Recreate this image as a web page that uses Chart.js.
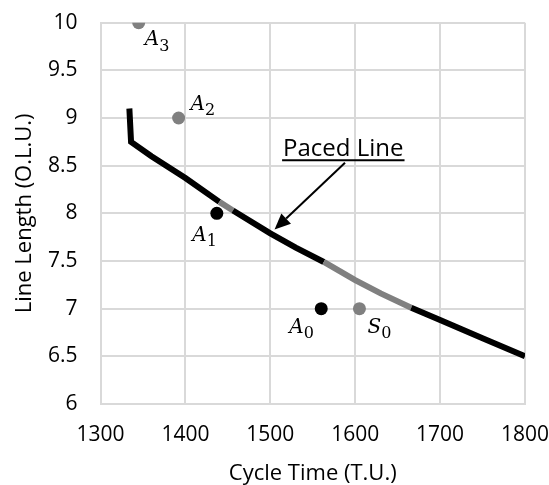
<!DOCTYPE html>
<html>
<head>
<meta charset="utf-8">
<script src="https://cdn.jsdelivr.net/npm/chart.js@4.4.1/dist/chart.umd.min.js"></script>
<style>
  html, body { margin: 0; padding: 0; background: #ffffff; }
  #wrap { width: 549px; height: 485px; position: relative; }
</style>
</head>
<body>
<div id="wrap"><canvas id="chart" width="549" height="485"></canvas></div>
<script>
// Paced line: line length versus cycle time
const curveX = [1334, 1336, 1360, 1400, 1440, 1456, 1500, 1530, 1563, 1600, 1630, 1666, 1700, 1750, 1800];
const curveY = [9.10, 8.75, 8.60, 8.37, 8.12, 8.03, 7.79, 7.64, 7.49, 7.30, 7.16, 7.01, 6.88, 6.69, 6.50];
// stretches of the paced line drawn in grey
const greyRuns = [[1440, 1456], [1563, 1666]];

// design points
const pointNames = ['A', 'A', 'A', 'A', 'S'];
const pointSubs = ['3', '2', '1', '0', '0'];
const pointX = [1345, 1392, 1437, 1560, 1605];
const pointY = [10, 9, 8, 7, 7];
const pointTone = ['grey', 'grey', 'black', 'black', 'grey'];

const xTicks = [1300, 1400, 1500, 1600, 1700, 1800];
const yTicks = [6, 6.5, 7, 7.5, 8, 8.5, 9, 9.5, 10];

const xTitle = 'Cycle Time (T.U.)';
const yTitle = 'Line Length (O.L.U.)';
const calloutText = 'Paced Line';
const calloutAt = { x: 1586, y: 8.60 };
const arrowFrom = { x: 1588, y: 8.53 };
const arrowTo = { x: 1505, y: 7.83 };

// styling
const BLACK = '#000000';
const GREY = '#808080';
const GRID = '#d9d9d9';
const toneColor = { grey: GREY, black: BLACK };
// label placement relative to each point: [dx to left edge, dy to baseline]
const labelOffsets = [[6, 22.5], [12, -8.4], [-24.5, 27.3], [-32, 24], [8, 24]];

const inGrey = (x0, x1) => greyRuns.some(([a, b]) => x0 >= a && x1 <= b);

const annotations = {
  id: 'annotations',
  afterDatasetsDraw(chart) {
    const { ctx, scales: { x, y } } = chart;
    ctx.save();
    // point labels with subscripts
    ctx.fillStyle = BLACK;
    ctx.textBaseline = 'alphabetic';
    ctx.textAlign = 'left';
    pointX.forEach((v, i) => {
      const px = x.getPixelForValue(v) + labelOffsets[i][0];
      const py = y.getPixelForValue(pointY[i]) + labelOffsets[i][1];
      ctx.font = 'italic 20px "DejaVu Serif"';
      ctx.fillText(pointNames[i], px, py);
      const w = ctx.measureText(pointNames[i]).width;
      ctx.font = '16px "DejaVu Serif"';
      ctx.fillText(pointSubs[i], px + w, py + 5.5);
    });
    // callout text, underlined
    const tx = x.getPixelForValue(calloutAt.x);
    const ty = y.getPixelForValue(calloutAt.y);
    ctx.font = '24px "Open Sans"';
    ctx.textAlign = 'center';
    ctx.fillText(calloutText, tx, ty);
    const tw = ctx.measureText(calloutText).width;
    ctx.strokeStyle = BLACK;
    ctx.lineWidth = 2;
    ctx.beginPath();
    ctx.moveTo(tx - tw / 2 - 1, ty + 4);
    ctx.lineTo(tx + tw / 2 + 1, ty + 4);
    ctx.stroke();
    // arrow to the curve
    const ax0 = x.getPixelForValue(arrowFrom.x), ay0 = y.getPixelForValue(arrowFrom.y);
    const ax1 = x.getPixelForValue(arrowTo.x), ay1 = y.getPixelForValue(arrowTo.y);
    const ang = Math.atan2(ay1 - ay0, ax1 - ax0);
    const headLen = 16, headHalf = 7;
    const bx = ax1 - headLen * Math.cos(ang), by = ay1 - headLen * Math.sin(ang);
    ctx.beginPath();
    ctx.moveTo(ax0, ay0);
    ctx.lineTo(bx, by);
    ctx.stroke();
    ctx.beginPath();
    ctx.moveTo(ax1, ay1);
    ctx.lineTo(bx + headHalf * Math.sin(ang), by - headHalf * Math.cos(ang));
    ctx.lineTo(bx - headHalf * Math.sin(ang), by + headHalf * Math.cos(ang));
    ctx.closePath();
    ctx.fillStyle = BLACK;
    ctx.fill();
    ctx.restore();
  }
};

new Chart(document.getElementById('chart'), {
  type: 'scatter',
  data: {
    datasets: [
      {
        label: 'Paced Line',
        data: curveX.map((v, i) => ({ x: v, y: curveY[i] })),
        showLine: true,
        borderColor: BLACK,
        borderWidth: 6,
        borderCapStyle: 'butt',
        borderJoinStyle: 'miter',
        pointRadius: 0,
        tension: 0,
        segment: {
          borderColor: c => inGrey(c.p0.parsed.x, c.p1.parsed.x) ? GREY : BLACK
        },
        order: 2
      },
      {
        label: 'Points',
        data: pointX.map((v, i) => ({ x: v, y: pointY[i] })),
        showLine: false,
        pointRadius: 6.5,
        pointBorderWidth: 0,
        pointBackgroundColor: pointTone.map(t => toneColor[t]),
        order: 1
      }
    ]
  },
  options: {
    responsive: false,
    animation: false,
    devicePixelRatio: 1,
    layout: { padding: { top: 22.7, right: 0, left: 0, bottom: 0 } },
    plugins: { legend: { display: false }, tooltip: { enabled: false } },
    scales: {
      x: {
        type: 'linear',
        min: 1300, max: 1800,
        afterBuildTicks: s => { s.ticks = xTicks.map(v => ({ value: v })); },
        afterFit: s => { s.height = 81; s.paddingLeft = 0; s.paddingRight = 24; },
        ticks: {
          callback: v => String(v),
          color: BLACK,
          font: { family: '"Open Sans"', size: 21 },
          padding: 18,
          maxRotation: 0
        },
        grid: { color: GRID, lineWidth: 2, drawTicks: false },
        border: { color: GRID, width: 2 },
        title: {
          display: true, text: xTitle, color: BLACK,
          font: { family: '"Open Sans"', size: 22 },
          padding: { top: 0, bottom: -2 }
        }
      },
      y: {
        type: 'linear',
        min: 6, max: 10,
        afterBuildTicks: s => { s.ticks = yTicks.map(v => ({ value: v })); },
        afterFit: s => { s.width = 100.5; s.paddingTop = 0; s.paddingBottom = 0; },
        ticks: {
          callback: v => String(v),
          color: BLACK,
          font: { family: '"Open Sans"', size: 21 },
          padding: 23
        },
        grid: { color: GRID, lineWidth: 2, drawTicks: false },
        border: { color: GRID, width: 2 },
        title: {
          display: true, text: yTitle, color: BLACK,
          font: { family: '"Open Sans"', size: 22 },
          padding: { top: 12, bottom: 0 }
        }
      }
    }
  },
  plugins: [annotations]
});
</script>
</body>
</html>
